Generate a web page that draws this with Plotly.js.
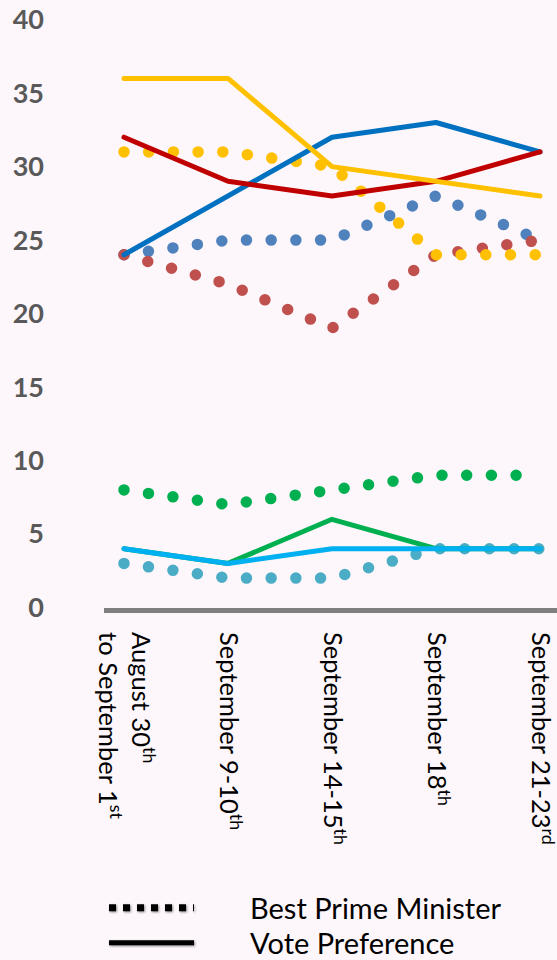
<!DOCTYPE html>
<html>
<head>
<meta charset="utf-8">
<script src="https://cdn.plot.ly/plotly-3.0.1.min.js"></script>
<style>
  html, body { margin: 0; padding: 0; background: #FDF7FB; }
  #chart { width: 557px; height: 960px; }
  /* round caps turn the zero-length dashes into round dots */
  .scatterlayer .js-line { stroke-linecap: round !important; stroke-linejoin: round !important; }
  .legendlines .js-line { filter: drop-shadow(1px 1.5px 1.2px rgba(0,0,0,0.45)); }
</style>
</head>
<body>
<div id="chart"></div>
<script>
// Poll periods (category axis)
const periods = [
  'August 30<sup>th</sup><br>to September 1<sup>st</sup>',
  'September 9-10<sup>th</sup>',
  'September 14-15<sup>th</sup>',
  'September 18<sup>th</sup>',
  'September 21-23<sup>rd</sup>'
];

// Best Prime Minister (%)
const bestPMBlue   = [24, 25, 25, 28, 25];
const bestPMRed    = [24, 22, 19, 24, 25];
const bestPMYellow = [31, 31, 30, 24, 24];
const bestPMGreen  = [8, 7, 8, 9, 9];
const bestPMCyan   = [3, 2, 2, 4, 4];

// Vote preference (%)
const voteBlue   = [24, 28, 32, 33, 31];
const voteRed    = [32, 29, 28, 29, 31];
const voteYellow = [36, 36, 30, 29, 28];
const voteGreen  = [4, 3, 6, 4, 4];
const voteCyan   = [4, 3, 4, 4, 4];

const yTicks = [0, 5, 10, 15, 20, 25, 30, 35, 40];

const FONT = 'Lato, "Open Sans", sans-serif';
const DOTS = '0px,24.7px';

function dotted(values, color) {
  return {
    x: periods, y: values, type: 'scatter', mode: 'lines',
    line: { color: color, width: 11.5, dash: DOTS },
    showlegend: false, hoverinfo: 'skip'
  };
}
function solid(values, color) {
  return {
    x: periods, y: values, type: 'scatter', mode: 'lines',
    line: { color: color, width: 5 },
    showlegend: false, hoverinfo: 'skip'
  };
}

const data = [
  dotted(bestPMBlue, '#4F81BD'),
  dotted(bestPMRed, '#C0504D'),
  dotted(bestPMYellow, '#FFC000'),
  dotted(bestPMGreen, '#00B050'),
  dotted(bestPMCyan, '#4BACC6'),
  solid(voteBlue, '#0070C0'),
  solid(voteRed, '#C00000'),
  solid(voteYellow, '#FFC000'),
  solid(voteGreen, '#00B050'),
  solid(voteCyan, '#00B0F0'),
  // style key entries
  { x: [null], y: [null], type: 'scatter', mode: 'lines', name: 'Best Prime Minister',
    legend: 'legend', line: { color: '#000000', width: 7, dash: '7px,7px' }, hoverinfo: 'skip' },
  { x: [null], y: [null], type: 'scatter', mode: 'lines', name: 'Vote Preference',
    legend: 'legend2', line: { color: '#000000', width: 5 }, hoverinfo: 'skip' }
];

function keyRow(yPos) {
  return {
    x: 0, xanchor: 'left',
    y: yPos, yref: 'container', yanchor: 'middle',
    bgcolor: 'rgba(0,0,0,0)',
    itemwidth: 136,
    font: { family: FONT, size: 29, color: '#000000' }
  };
}

const layout = {
  width: 557, height: 960,
  margin: { l: 104, r: 0, t: 12, b: 352, autoexpand: false },
  paper_bgcolor: '#FDF7FB',
  plot_bgcolor: '#FDF7FB',
  xaxis: {
    type: 'category',
    range: [-0.1923, 4.1635],
    automargin: false,
    tickangle: 90,
    showline: true, linecolor: '#808080', linewidth: 5,
    ticks: '', showgrid: false, zeroline: false,
    ticklabelstandoff: 14,
    tickfont: { family: FONT, size: 25.5, color: '#000000' }
  },
  yaxis: {
    range: [-0.034, 40.52],
    automargin: false,
    tickvals: yTicks,
    ticks: '', showgrid: false, zeroline: false, showline: false,
    ticklabelstandoff: 59,
    tickfont: { family: FONT, size: 27, weight: 700, color: '#595959' }
  },
  showlegend: true,
  legend: keyRow(1 - 908 / 960),
  legend2: keyRow(1 - 943 / 960)
};

Plotly.newPlot('chart', data, layout, { staticPlot: true, displayModeBar: false }).then(function (gd) {
  // stretch the key samples to a longer stroke
  gd.querySelectorAll('.legendlines .js-line').forEach(function (p) {
    p.setAttribute('d', 'M5,0h85');
  });
});
</script>
</body>
</html>
